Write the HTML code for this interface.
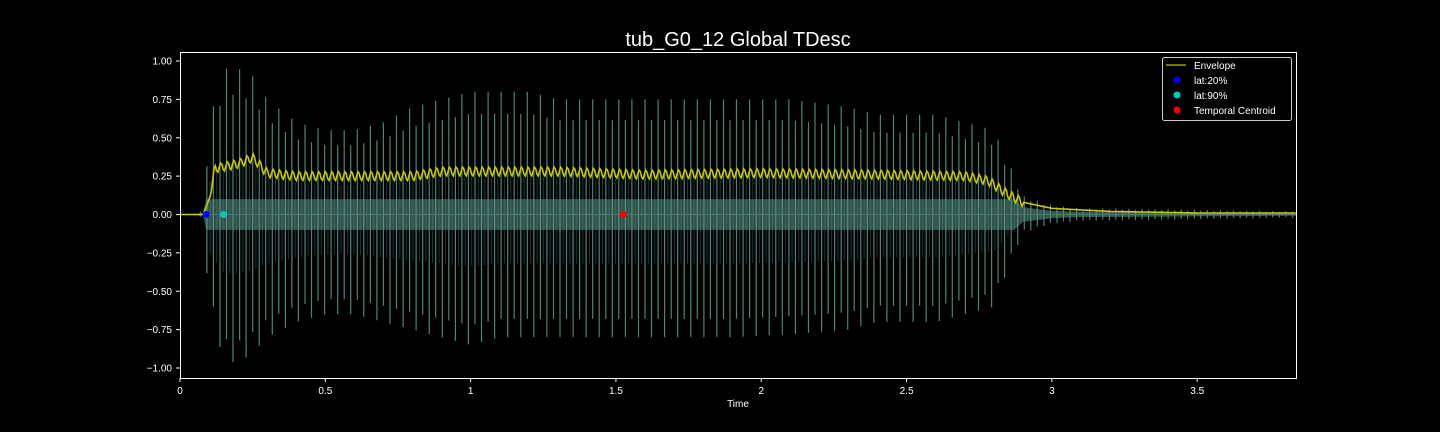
<!DOCTYPE html>
<html><head><meta charset="utf-8"><style>
html,body{margin:0;padding:0;background:#000;}
svg{display:block;font-family:"Liberation Sans","DejaVu Sans",sans-serif;}
</style></head><body>
<svg id="chart" width="1440" height="432" viewBox="0 0 1440 432" xmlns="http://www.w3.org/2000/svg">
<rect width="1440" height="432" fill="#000"/>
<text x="738" y="46" fill="#fff" font-size="20" text-anchor="middle">tub_G0_12 Global TDesc</text>
<g id="plot"></g>
<rect x="180.5" y="52.5" width="1116" height="326" fill="none" stroke="#fff" stroke-width="1"/>
<g id="axes"></g>
<text x="738" y="407" fill="#fff" font-size="10" text-anchor="middle">Time</text>
<g>
<rect x="1162.5" y="57.5" width="129" height="63" rx="2" fill="#000" stroke="#ccc" stroke-width="1"/>
<line x1="1166" y1="65" x2="1186" y2="65" stroke="#9a9a00" stroke-width="1.5"/>
<text x="1194" y="69" fill="#fff" font-size="10">Envelope</text>
<circle cx="1177" cy="80" r="3.5" fill="#0000ff"/>
<text x="1194" y="84" fill="#fff" font-size="10">lat:20%</text>
<circle cx="1177" cy="95" r="3.5" fill="#00c8c8"/>
<text x="1194" y="99" fill="#fff" font-size="10">lat:90%</text>
<circle cx="1177" cy="110" r="3.5" fill="#ff0000"/>
<text x="1194" y="114" fill="#fff" font-size="10">Temporal Centroid</text>
</g>
</svg>
<script>
const ampTimes = [0,0.08,0.1,0.15,0.2,0.25,0.3,0.4,0.5,0.6,0.7,0.8,0.9,1.0,1.1,1.2,1.3,1.5,1.7,1.9,2.1,2.3,2.4,2.6,2.7,2.8,2.86,2.9,3.0,3.1,3.2,3.5,3.84];
const ampPos =  [0,0.02,0.6,0.95,0.95,0.9,0.75,0.6,0.55,0.55,0.6,0.7,0.75,0.8,0.8,0.8,0.75,0.75,0.75,0.75,0.75,0.7,0.65,0.65,0.6,0.55,0.3,0.12,0.06,0.04,0.04,0.03,0.02];
const ampNeg =  [0,-0.02,-0.6,-0.95,-0.97,-0.9,-0.8,-0.7,-0.65,-0.65,-0.7,-0.75,-0.8,-0.85,-0.8,-0.8,-0.8,-0.8,-0.8,-0.8,-0.78,-0.75,-0.7,-0.7,-0.65,-0.6,-0.3,-0.12,-0.06,-0.04,-0.04,-0.03,-0.02];
const envTimes = [0,0.08,0.1,0.12,0.2,0.25,0.3,0.4,0.8,0.9,1.3,1.6,2.0,2.4,2.7,2.78,2.85,2.9,3.0,3.1,3.2,3.5,3.84];
const envVals =  [0,0,0.1,0.3,0.33,0.37,0.27,0.25,0.25,0.28,0.28,0.26,0.27,0.26,0.25,0.22,0.13,0.08,0.04,0.03,0.02,0.01,0.01];
const markerNames = ['lat-20-marker','lat-90-marker','temporal-centroid-marker'];
const markerTimes = [0.09,0.15,1.525];
const markerColors = ['#0000ff','#00c8c8','#ff0000'];
const xTicks = [0,0.5,1,1.5,2,2.5,3,3.5];
const xTickLabels = ['0','0.5','1','1.5','2','2.5','3','3.5'];
const yTicks = [1,0.75,0.5,0.25,0,-0.25,-0.5,-0.75,-1];
const yTickLabels = ['1.00','0.75','0.50','0.25','0.00','\u22120.25','\u22120.50','\u22120.75','\u22121.00'];

const X0=180, X1=1296, TMAX=3.84;
const xs = t => X0 + t/TMAX*(X1-X0);
const ys = v => 214.5 - v*153.5;
const NS='http://www.w3.org/2000/svg';
function interp(ts, vs, t){
  for(let i=1;i<ts.length;i++){ if(t<=ts[i]){const f=(t-ts[i-1])/(ts[i]-ts[i-1]);return vs[i-1]+f*(vs[i]-vs[i-1]);} }
  return vs[vs.length-1];
}
const plot=document.getElementById('plot');
const pts=[];
for(let t=0;t<=TMAX;t+=0.01){pts.push(t);}
const topPts=pts.map(t=>xs(t)+','+ys(Math.min(0.1,interp(ampTimes,ampPos,t)*0.4))).join(' L');
const botPts=pts.slice().reverse().map(t=>xs(t)+','+ys(Math.max(-0.1,interp(ampTimes,ampNeg,t)*0.4))).join(' L');
const band=document.createElementNS(NS,'path');
band.setAttribute('d','M'+topPts+' L'+botPts+' Z');
band.setAttribute('fill','#31504a');


plot.appendChild(band);
const P=0.0225;
let dMain='', dSub='';
let k=0;
for(let t=0.07;t<=TMAX;t+=P,k++){
  const alt = (k%2===0)?1:0.82;
  const hp=interp(ampTimes,ampPos,t)*alt, hn=interp(ampTimes,ampNeg,t)*(k%2===0?0.85:1);
  const x=xs(t).toFixed(1);
  dMain+='M'+x+','+ys(hp).toFixed(1)+' L'+x+','+ys(hn).toFixed(1)+' ';
  const t2=t+P/2, x2=xs(t2).toFixed(1);
  dSub+='M'+x2+','+ys(interp(ampTimes,ampPos,t2)*0.35).toFixed(1)+' L'+x2+','+ys(interp(ampTimes,ampNeg,t2)*0.4).toFixed(1)+' ';
}
const sub=document.createElementNS(NS,'path');
sub.setAttribute('d',dSub);
sub.setAttribute('stroke','#5a9a8e');
sub.setAttribute('stroke-opacity','0.35');
sub.setAttribute('stroke-width','1');


plot.appendChild(sub);
const wave=document.createElementNS(NS,'path');
wave.setAttribute('d',dMain);
wave.setAttribute('stroke','#5a9a8e');
wave.setAttribute('stroke-opacity','0.85');
wave.setAttribute('stroke-width','1.2');


plot.appendChild(wave);
const base=document.createElementNS(NS,'line');
base.setAttribute('x1',X0);base.setAttribute('x2',X1);base.setAttribute('y1',ys(0));base.setAttribute('y2',ys(0));
base.setAttribute('stroke','#4a7a70');


plot.appendChild(base);
const ed=[];
for(let t=0;t<=TMAX;t+=0.0045){
  const v=interp(envTimes,envVals,t);
  const osc = t>0.1 && t<2.9 ? 0.03*Math.sin(2*Math.PI*t/P) : 0;
  ed.push(xs(t).toFixed(1)+','+ys(v+osc).toFixed(1));
}
const env=document.createElementNS(NS,'path');
env.setAttribute('d','M'+ed.join(' L'));
env.setAttribute('fill','none');
env.setAttribute('stroke','#c8c800');
env.setAttribute('stroke-width','1.6');


plot.appendChild(env);
markerTimes.forEach((t,i)=>{
  const c=document.createElementNS(NS,'circle');
  c.setAttribute('cx',xs(t));c.setAttribute('cy',ys(0));c.setAttribute('r','3.5');
  c.setAttribute('fill',markerColors[i]);
  
  
  plot.appendChild(c);
});
const axes=document.getElementById('axes');
xTicks.forEach((t,i)=>{
  const l=document.createElementNS(NS,'line');
  l.setAttribute('x1',xs(t));l.setAttribute('x2',xs(t));l.setAttribute('y1',378);l.setAttribute('y2',382);l.setAttribute('stroke','#fff');
  
  
  axes.appendChild(l);
  const tx=document.createElementNS(NS,'text');
  tx.setAttribute('x',xs(t));tx.setAttribute('y',394);tx.setAttribute('fill','#fff');tx.setAttribute('font-size','10');tx.setAttribute('text-anchor','middle');
  tx.textContent=xTickLabels[i];
  
  
  axes.appendChild(tx);
});
yTicks.forEach((v,i)=>{
  const l=document.createElementNS(NS,'line');
  l.setAttribute('x1',176);l.setAttribute('x2',180);l.setAttribute('y1',ys(v));l.setAttribute('y2',ys(v));l.setAttribute('stroke','#fff');
  
  
  axes.appendChild(l);
  const tx=document.createElementNS(NS,'text');
  tx.setAttribute('x',172);tx.setAttribute('y',ys(v)+3.5);tx.setAttribute('fill','#fff');tx.setAttribute('font-size','10');tx.setAttribute('text-anchor','end');
  tx.textContent=yTickLabels[i];
  
  
  axes.appendChild(tx);
});
</script>
</body></html>
